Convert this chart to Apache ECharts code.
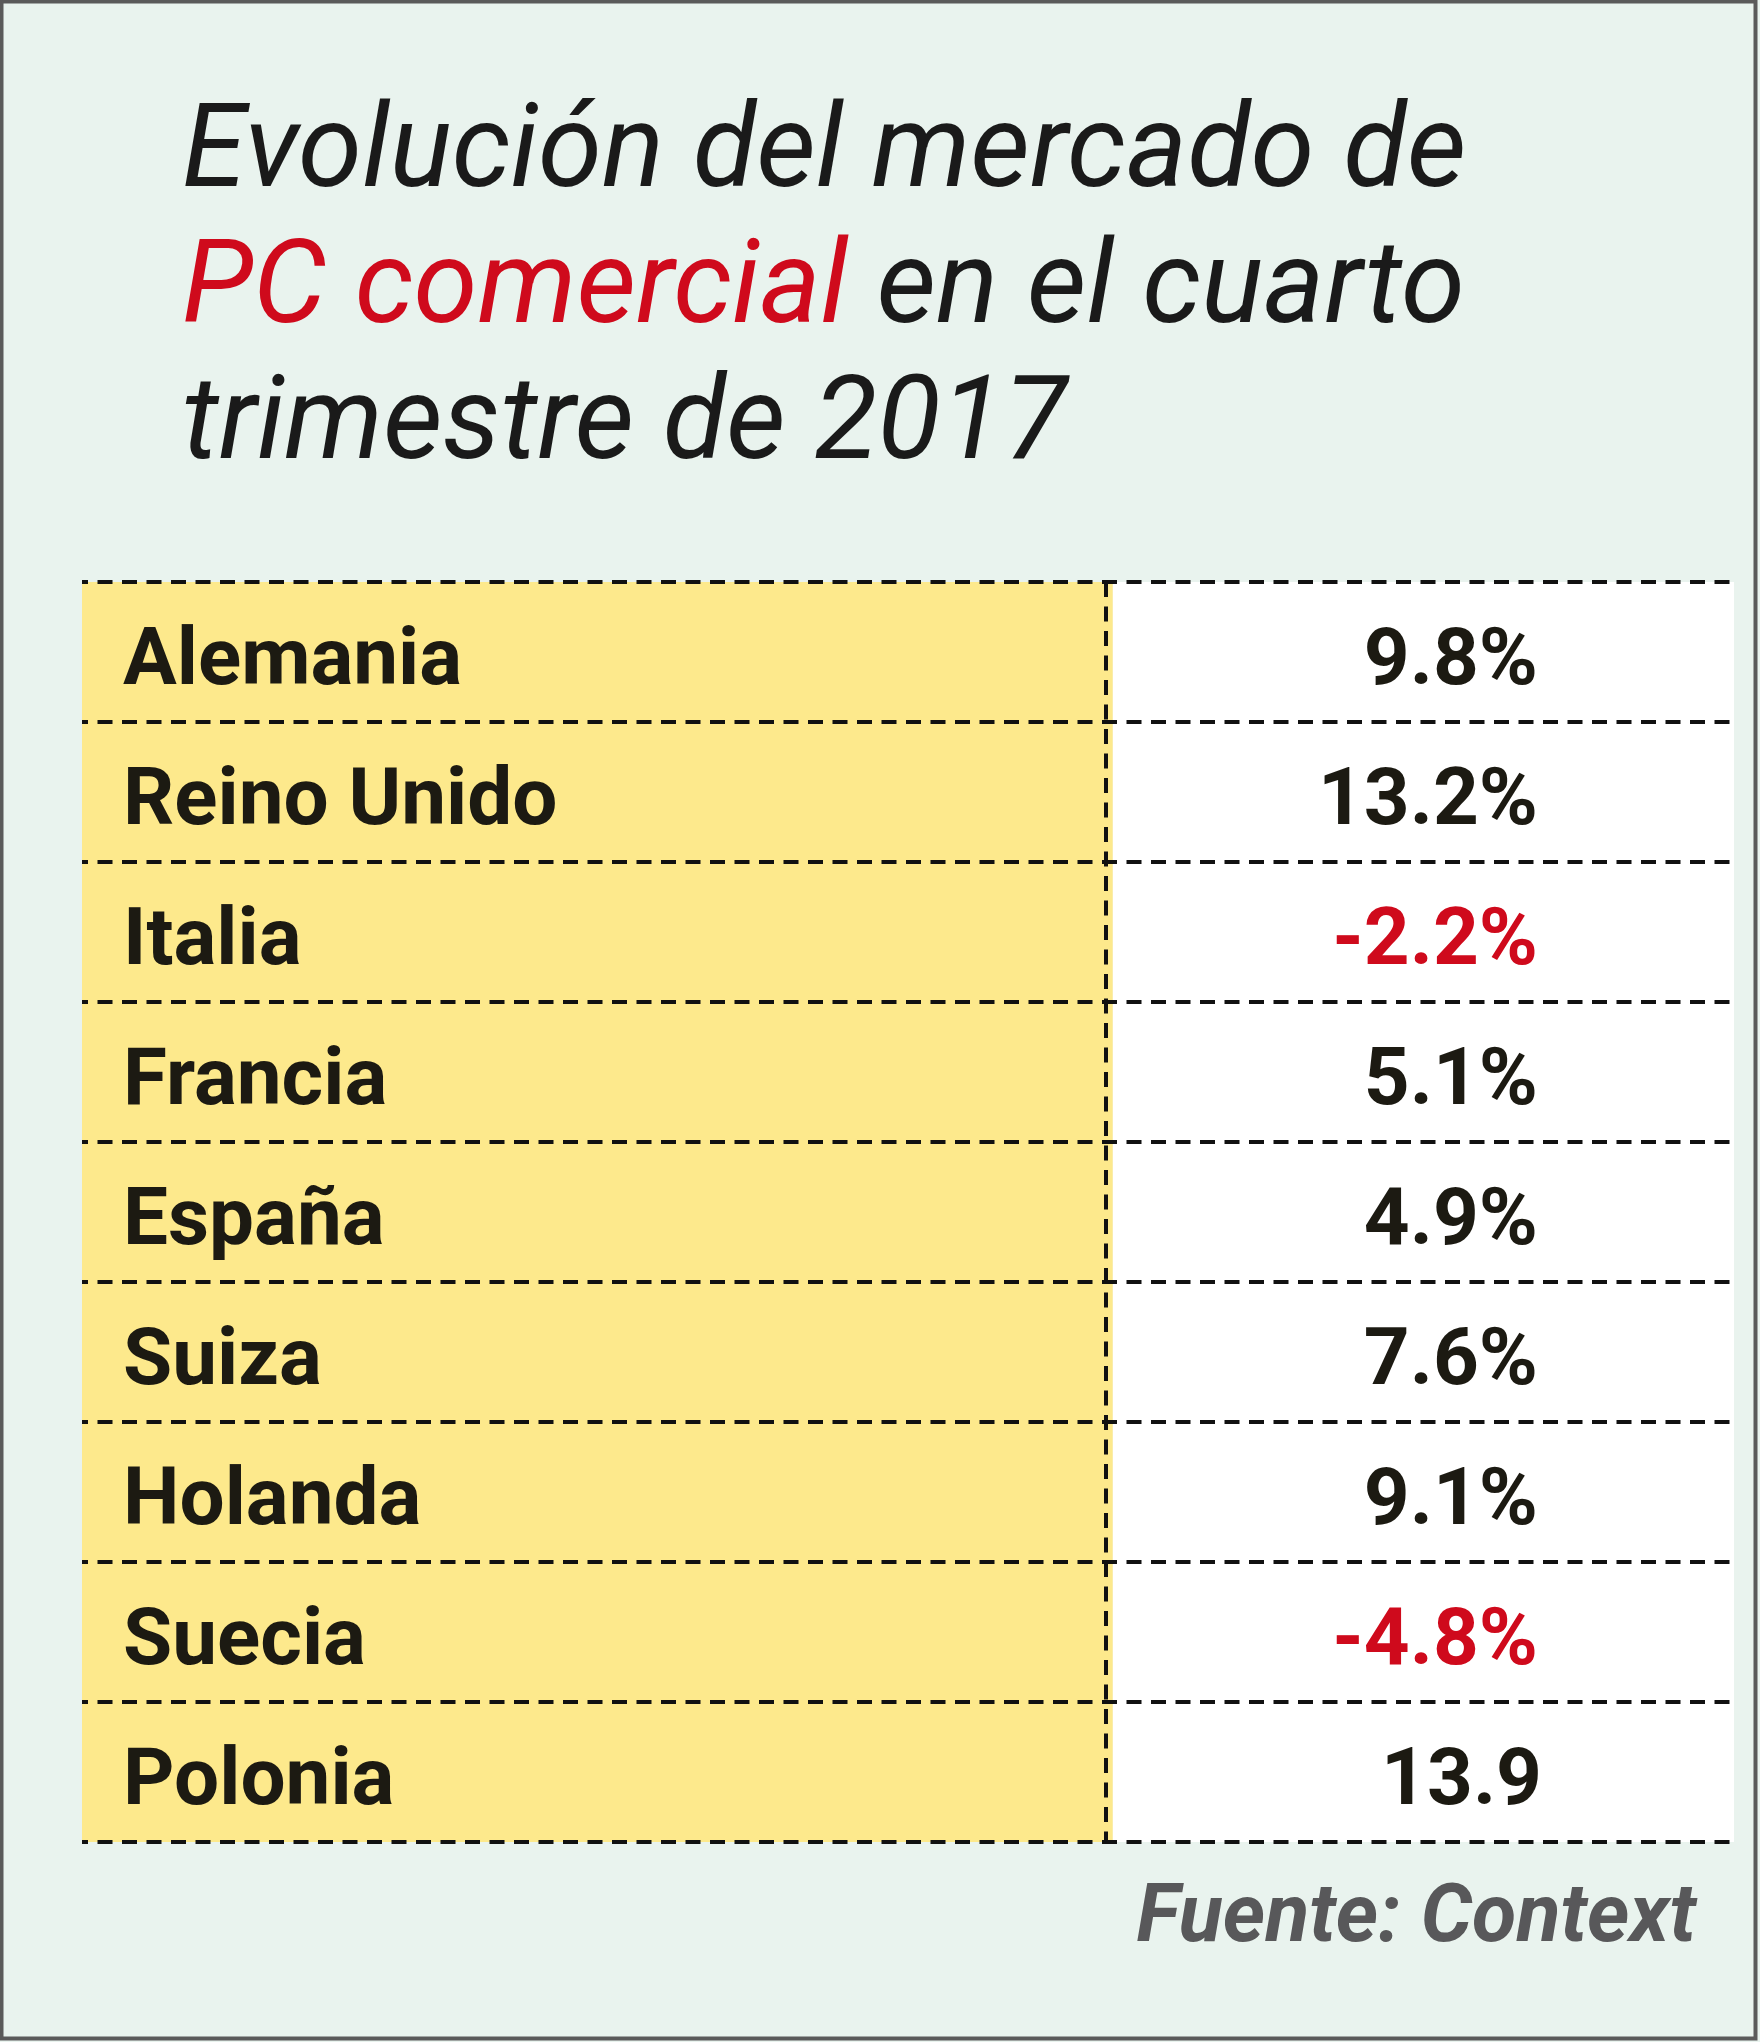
<!DOCTYPE html>
<html>
<head>
<meta charset="utf-8">
<script src="https://cdn.jsdelivr.net/npm/echarts@6/dist/echarts.min.js"></script>
<style>
html,body{margin:0;padding:0;background:#e9f3ee;}
#chart{width:1760px;height:2042px;}
</style>
</head>
<body>
<div id="chart"></div>
<script>
// ---- data ----
const countries = ['Alemania', 'Reino Unido', 'Italia', 'Francia', 'España', 'Suiza', 'Holanda', 'Suecia', 'Polonia'];
const values = [9.8, 13.2, -2.2, 5.1, 4.9, 7.6, 9.1, -4.8, 13.9];
const valueLabels = ['9.8%', '13.2%', '-2.2%', '5.1%', '4.9%', '7.6%', '9.1%', '-4.8%', '13.9'];
const titleLine1 = 'Evolución del mercado de';
const titleRed = 'PC comercial';
const titleLine2Rest = ' en el cuarto';
const titleLine3 = 'trimestre de 2017';
const sourceText = 'Fuente: Context';

// ---- layout / style ----
const SPLIT = 0.624;            // fraction of table width for the name column
const RED = '#cf0a1c';
const DARK = '#1c1a12';
const DASH = { color: '#111', width: 4, type: [15, 9.5], dashOffset: 9 };

const chart = echarts.init(document.getElementById('chart'), null, { renderer: 'canvas' });

const nameCells = countries.map(() => SPLIT);
const valueCells = countries.map((c, i) => ({
  value: 1 - SPLIT,
  label: {
    color: values[i] < 0 ? RED : DARK,
    distance: valueLabels[i].endsWith('%') ? 196 : 192
  }
}));

const option = {
  backgroundColor: '#e9f3ee',
  animation: false,
  title: [
    {
      text: '{a|' + titleLine1 + '}\n{r|' + titleRed + '}{a|' + titleLine2Rest + '}\n{a|' + titleLine3 + '}',
      left: 182,
      top: 89,
      padding: 0,
      textStyle: {
        rich: {
          a: { fontFamily: 'Roboto', fontStyle: 'italic', fontWeight: 'normal', fontSize: 116, lineHeight: 136, color: '#1a1a1a' },
          r: { fontFamily: 'Roboto', fontStyle: 'italic', fontWeight: 'normal', fontSize: 116, lineHeight: 136, color: RED }
        }
      }
    },
    {
      text: sourceText,
      right: 64,
      top: 1873,
      padding: 0,
      textStyle: { fontFamily: 'Roboto', fontStyle: 'italic', fontWeight: 'bold', fontSize: 81, lineHeight: 96, color: '#58585a' }
    }
  ],
  grid: { left: 82, right: 26, top: 582, bottom: 200, containLabel: false },
  xAxis: {
    type: 'value', min: 0, max: 1, show: false
  },
  yAxis: {
    type: 'category',
    data: countries,
    inverse: true,
    z: 5,
    axisLine: { show: false },
    axisTick: { show: false },
    axisLabel: {
      inside: true,
      margin: 41,
      fontFamily: 'Roboto',
      fontWeight: 'bold',
      fontSize: 80,
      color: DARK,
      verticalAlign: 'top',
      lineHeight: 24
    },
    splitLine: { show: true, lineStyle: DASH }
  },
  series: [
    {
      type: 'bar',
      stack: 'row',
      data: nameCells,
      barWidth: '100%',
      barCategoryGap: 0,
      itemStyle: { color: '#fde98c' },
      silent: true
    },
    {
      type: 'bar',
      stack: 'row',
      data: valueCells,
      barWidth: '100%',
      barCategoryGap: 0,
      itemStyle: { color: '#ffffff' },
      silent: true,
      label: {
        show: true,
        position: 'insideRight',
        fontFamily: 'Roboto',
        fontWeight: 'bold',
        fontSize: 80,
        verticalAlign: 'top',
        lineHeight: 24,
        formatter: p => valueLabels[p.dataIndex]
      },
      markLine: {
        silent: true,
        symbol: ['none', 'none'],
        label: { show: false },
        lineStyle: { color: '#111', width: 4, type: [15, 9.5], dashOffset: 0 },
        data: [{ xAxis: SPLIT }],
        z: 10
      }
    }
  ],
  graphic: [
    {
      type: 'rect',
      z: 100,
      silent: true,
      shape: { x: 1.5, y: 1.5, width: 1754, height: 2037 },
      style: { fill: 'none', stroke: '#5a5a5a', lineWidth: 4 }
    }
  ]
};

chart.setOption(option);
</script>
</body>
</html>
